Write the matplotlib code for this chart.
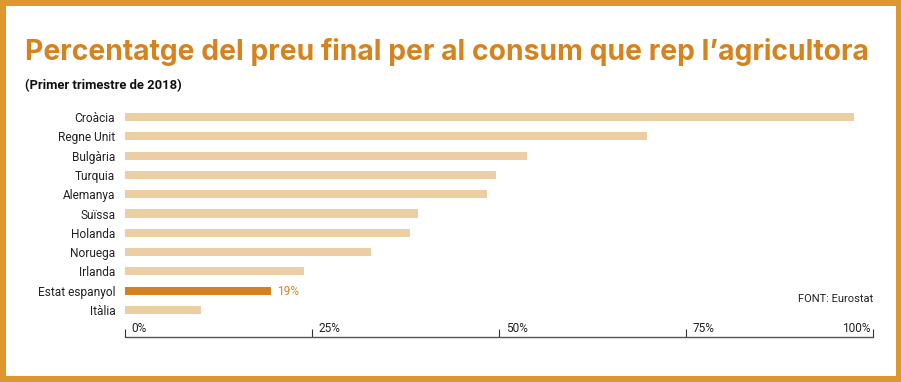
import matplotlib.pyplot as plt
from matplotlib.patches import Rectangle

# Dades (Eurostat, primer trimestre de 2018)
paisos = ['Croàcia', 'Regne Unit', 'Bulgària', 'Turquia', 'Alemanya', 'Suïssa',
          'Holanda', 'Noruega', 'Irlanda', 'Estat espanyol', 'Itàlia']
valors = [97.5, 69.8, 53.7, 49.6, 48.4, 39.2, 38.1, 32.9, 23.9, 19.5, 10.2]
destacat = 'Estat espanyol'
etiqueta_destacat = '19%'
ticks = [0, 25, 50, 75, 100]
tick_labels = ['0%', '25%', '50%', '75%', '100%']

taronja_marc = '#DE962E'
taronja_titol = '#D4831F'
taronja_barra = '#D4821F'
barra_clara = '#EDCDA3'

plt.rcParams['font.family'] = ['Roboto', 'DejaVu Sans']

W, H = 901, 382
fig = plt.figure(figsize=(W / 100, H / 100), dpi=100)
fig.patch.set_facecolor(taronja_marc)

# marc blanc interior
fig.patches.append(Rectangle((6 / W, 6 / H), (896 - 6) / W, (376 - 6) / H,
                             transform=fig.transFigure, facecolor='white',
                             edgecolor='none', zorder=-5))

ax = fig.add_axes([125 / W, 1 - 337 / H, (873 - 125) / W, (337 - 107) / H])
ax.set_facecolor('none')
ax.set_zorder(2)

y = list(range(len(paisos)))
colors = [taronja_barra if p == destacat else barra_clara for p in paisos]
ax.barh(y, valors, height=0.42, color=colors)
ax.set_ylim(11.4, -0.52)
ax.set_xlim(0, 100)

ax.set_yticks(y)
ax.set_yticklabels(paisos, fontsize=8.6, color='#222222')
ax.tick_params(axis='y', length=0, pad=7)

for s in ['top', 'right', 'left']:
    ax.spines[s].set_visible(False)
ax.spines['bottom'].set_color('#555555')
ax.spines['bottom'].set_linewidth(1.0)

ax.set_xticks(ticks)
ax.set_xticklabels([])
ax.tick_params(axis='x', direction='in', length=6, width=0.8, color='#333333')

for t, lab in zip(ticks, tick_labels):
    if t == 100:
        ax.text(t - 0.3, 11.3, lab, ha='right', va='bottom', fontsize=8.6, color='#222222')
    else:
        ax.text(t + 0.9, 11.3, lab, ha='left', va='bottom', fontsize=8.6, color='#222222')

i = paisos.index(destacat)
ax.text(valors[i] + 0.8, i + 0.05, etiqueta_destacat, ha='left', va='center',
        fontsize=8.6, color=taronja_barra)

ax.text(100, 9.45, 'FONT: Eurostat', ha='right', va='center', fontsize=8, color='#222222')

titol = fig.text(25 / W, 1 - 52 / H,
                 'Percentatge del preu final per al consum que rep l\u2019agricultora',
                 fontsize=20, fontweight='bold', color=taronja_titol, va='center',
                 ha='left', family=['Inter', 'DejaVu Sans'])
# ajusta la mida del titol a l'amplada de la referencia (845 px)
r = fig.canvas.get_renderer()
w = titol.get_window_extent(r).width
titol.set_fontsize(20 * 845 / w)

fig.text(25 / W, 1 - 86 / H, '(Primer trimestre de 2018)', fontsize=9.4,
         fontweight='bold', color='#111111', va='center', ha='left')

fig.savefig('out.png', dpi=100, facecolor=fig.get_facecolor())
